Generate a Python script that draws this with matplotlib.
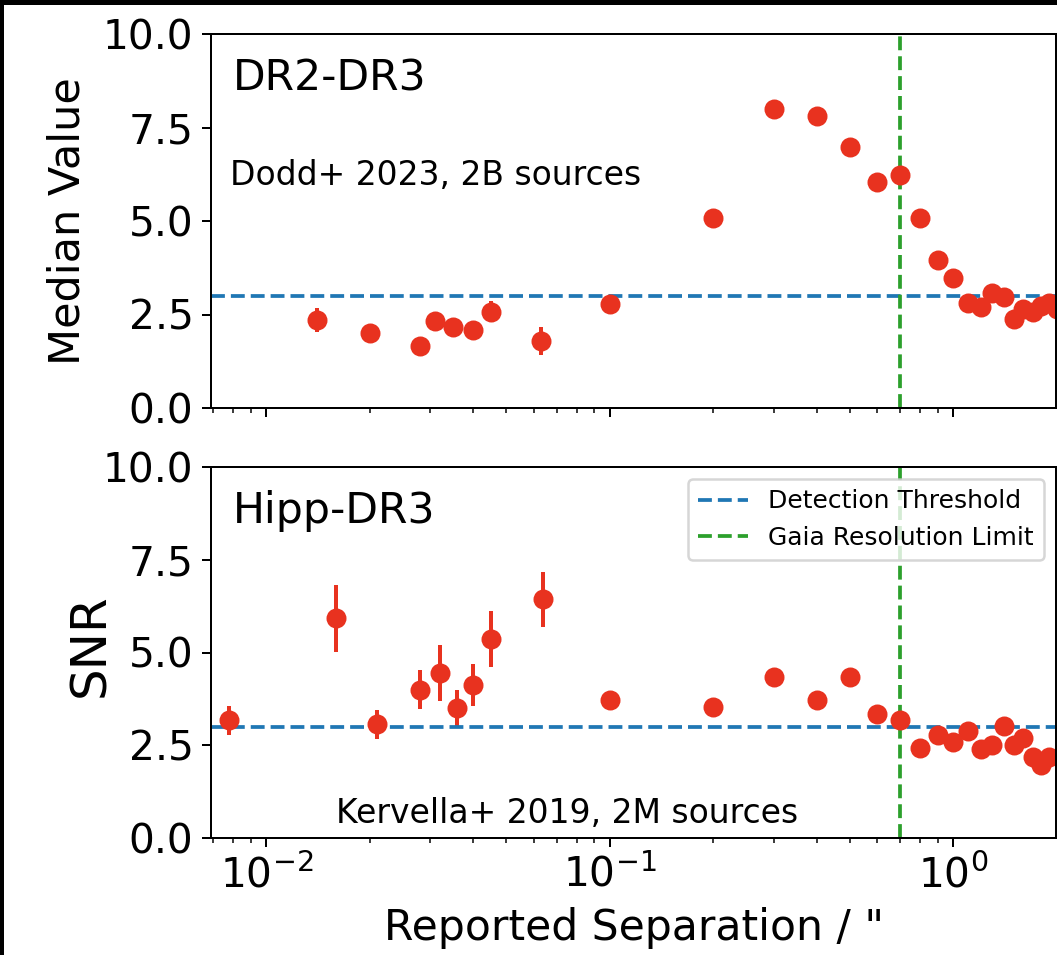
import matplotlib
matplotlib.use("Agg")
import matplotlib.pyplot as plt
from matplotlib.patches import Rectangle

# top panel: DR2-DR3 (Dodd+ 2023)
sep_top = [0.014, 0.020, 0.028, 0.031, 0.035, 0.040, 0.045, 0.063, 0.10,
           0.2, 0.3, 0.4, 0.5, 0.6, 0.7, 0.8, 0.9, 1.0,
           1.1, 1.2, 1.3, 1.4, 1.5, 1.6, 1.7, 1.8, 1.9, 2.0]
med_top = [2.35, 2.0, 1.66, 2.33, 2.17, 2.09, 2.57, 1.79, 2.78,
           5.08, 8.0, 7.82, 6.99, 6.05, 6.23, 5.08, 3.95, 3.47,
           2.8, 2.7, 3.07, 2.97, 2.38, 2.65, 2.58, 2.74, 2.8, 2.65]
err_top = [0.32, 0.12, 0.12, 0.12, 0.12, 0.12, 0.28, 0.37, 0.1,
           0.05, 0.05, 0.05, 0.05, 0.05, 0.05, 0.05, 0.05, 0.05,
           0.05, 0.05, 0.05, 0.05, 0.05, 0.05, 0.05, 0.05, 0.05, 0.05]

# bottom panel: Hipp-DR3 (Kervella+ 2019)
sep_bot = [0.0078, 0.016, 0.021, 0.028, 0.032, 0.036, 0.040, 0.045, 0.064, 0.10,
           0.2, 0.3, 0.4, 0.5, 0.6, 0.7, 0.8, 0.9, 1.0,
           1.1, 1.2, 1.3, 1.4, 1.5, 1.6, 1.7, 1.8, 1.9]
snr_bot = [3.17, 5.92, 3.07, 4.0, 4.45, 3.5, 4.13, 5.36, 6.43, 3.71,
           3.52, 4.35, 3.73, 4.35, 3.33, 3.17, 2.43, 2.77, 2.59,
           2.88, 2.4, 2.51, 3.01, 2.51, 2.69, 2.19, 1.97, 2.19]
err_bot = [0.4, 0.9, 0.39, 0.53, 0.76, 0.5, 0.56, 0.76, 0.73, 0.1,
           0.08, 0.08, 0.08, 0.08, 0.08, 0.08, 0.08, 0.08, 0.08,
           0.08, 0.08, 0.08, 0.08, 0.08, 0.08, 0.08, 0.08, 0.08]

threshold = 3.0
gaia_limit = 0.7
red = '#e8321f'

W, H = 1057, 955
fig = plt.figure(figsize=(W / 180, H / 180), dpi=180)
fig.patch.set_facecolor('black')
fig.add_artist(Rectangle((4 / W, 0), 1, 1 - 5 / H, transform=fig.transFigure,
                         facecolor='white', edgecolor='none', zorder=-10))

ax1 = fig.add_axes([211 / W, 1 - 408 / H, 845 / W, 374 / H])
ax2 = fig.add_axes([211 / W, 1 - 838 / H, 845 / W, 371 / H], sharex=ax1)

for ax, x, y, e in [(ax1, sep_top, med_top, err_top), (ax2, sep_bot, snr_bot, err_bot)]:
    ax.errorbar(x, y, yerr=e, fmt='o', color=red, ms=7, elinewidth=1.6, capsize=0)
    ax.axhline(threshold, color='tab:blue', ls='--', lw=1.5, label='Detection Threshold')
    ax.axvline(gaia_limit, color='tab:green', ls='--', lw=1.5, label='Gaia Resolution Limit')
    ax.set_xscale('log')
    ax.set_ylim(0, 10)
    ax.set_yticks([0, 2.5, 5, 7.5, 10])
    ax.tick_params(labelsize=16.3)

ax1.set_xlim(0.0069, 1.99)
ax1.tick_params(labelbottom=False)

ax1.text(0.026, 0.848, 'DR2-DR3', transform=ax1.transAxes, fontsize=17, va='baseline')
ax1.text(0.0225, 0.596, 'Dodd+ 2023, 2B sources', transform=ax1.transAxes, fontsize=13.2, va='baseline')
ax2.text(0.026, 0.849, 'Hipp-DR3', transform=ax2.transAxes, fontsize=17, va='baseline')
ax2.text(0.148, 0.04, 'Kervella+ 2019, 2M sources', transform=ax2.transAxes, fontsize=13.2, va='baseline')

ax1.set_ylabel('Median Value', fontsize=17.2)
ax1.yaxis.set_label_coords(-0.145, 0.5)
ax2.set_ylabel('SNR', fontsize=20)
ax2.yaxis.set_label_coords(-0.115, 0.52)
ax2.set_xlabel('Reported Separation / "', fontsize=17)

ax2.legend(loc='upper right', fontsize=10)

fig.savefig('out.png', dpi=180, facecolor=fig.get_facecolor())
